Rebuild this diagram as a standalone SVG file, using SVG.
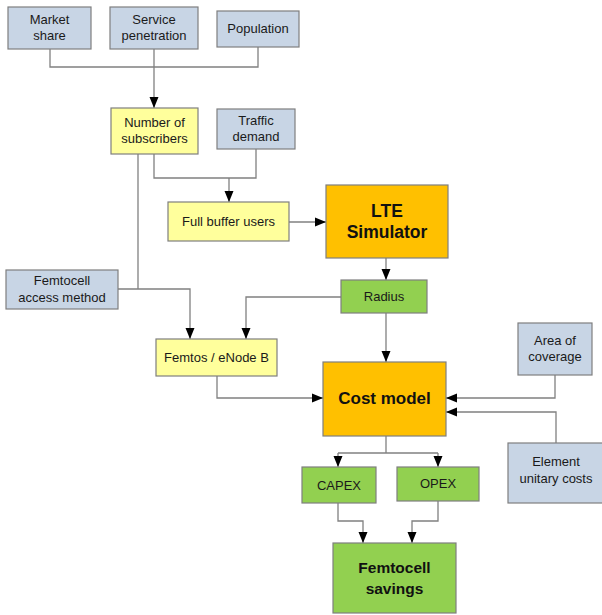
<svg xmlns="http://www.w3.org/2000/svg" width="602" height="615" viewBox="0 0 602 615">
  <style>
    .box { stroke: #7f7f7f; stroke-width: 1.2; }
    .in { fill: #c8d5e5; }
    .mid { fill: #ffff9c; }
    .core { fill: #ffc000; }
    .out { fill: #92d050; }
    text { font-family: "Liberation Sans", Arial, sans-serif; fill: #1a1a1a; text-anchor: middle; }
    .t { font-size: 13px; }
    .b { font-weight: bold; fill: #111; }
    .link { fill: none; stroke: #808080; stroke-width: 1.3; }
  </style>
  <defs>
    <marker id="arr" viewBox="0 0 11 10" refX="11" refY="5" markerWidth="11" markerHeight="10" markerUnits="userSpaceOnUse" orient="auto">
      <path d="M0,0.5 L11,5 L0,9.5 Z" fill="#000"/>
    </marker>
  </defs>
  <rect width="602" height="615" fill="#fff"/>

  <g id="connectors">
    <!-- inputs to subscriber count -->
    <path class="link" d="M50,49 V67 H258 V47"/>
    <path class="link" d="M154,49 V108" marker-end="url(#arr)"/>
    <!-- subscribers + traffic to full buffer users -->
    <path class="link" d="M154,154 V178 H256 V149"/>
    <path class="link" d="M229,178 V202" marker-end="url(#arr)"/>
    <path class="link" d="M289,222 H326" marker-end="url(#arr)"/>
    <!-- simulator to radius -->
    <path class="link" d="M386,258 V280" marker-end="url(#arr)"/>
    <!-- subscribers + access method to femtos -->
    <path class="link" d="M138,154 V289"/>
    <path class="link" d="M118,289 H190 V339" marker-end="url(#arr)"/>
    <!-- radius to femtos -->
    <path class="link" d="M341,297 H246 V339" marker-end="url(#arr)"/>
    <!-- radius to cost model -->
    <path class="link" d="M386,313 V362" marker-end="url(#arr)"/>
    <!-- femtos to cost model -->
    <path class="link" d="M217,376 V398 H323" marker-end="url(#arr)"/>
    <!-- right-hand inputs to cost model -->
    <path class="link" d="M555,375 V398 H446" marker-end="url(#arr)"/>
    <path class="link" d="M556,443 V412 H446" marker-end="url(#arr)"/>
    <!-- cost model to CAPEX / OPEX -->
    <path class="link" d="M386,436 V453"/>
    <path class="link" d="M338,453 H438"/>
    <path class="link" d="M338,453 V467" marker-end="url(#arr)"/>
    <path class="link" d="M438,453 V467" marker-end="url(#arr)"/>
    <!-- CAPEX / OPEX to savings -->
    <path class="link" d="M338,503 V521 H363 V543" marker-end="url(#arr)"/>
    <path class="link" d="M438,501 V521 H412 V543" marker-end="url(#arr)"/>
  </g>

  <g id="market-share">
    <rect class="box in" x="8" y="7" width="83" height="42"/>
    <text class="t" x="49.5" y="24">Market</text>
    <text class="t" x="49.5" y="40">share</text>
  </g>
  <g id="service-penetration">
    <rect class="box in" x="110" y="7" width="88" height="42"/>
    <text class="t" x="154" y="24">Service</text>
    <text class="t" x="154" y="40">penetration</text>
  </g>
  <g id="population">
    <rect class="box in" x="217" y="11" width="82" height="36"/>
    <text class="t" x="258" y="33">Population</text>
  </g>
  <g id="number-of-subscribers">
    <rect class="box mid" x="111" y="108" width="87" height="46"/>
    <text class="t" x="154.5" y="127">Number of</text>
    <text class="t" x="154.5" y="143">subscribers</text>
  </g>
  <g id="traffic-demand">
    <rect class="box in" x="217" y="109" width="78" height="40"/>
    <text class="t" x="256" y="125">Traffic</text>
    <text class="t" x="256" y="141">demand</text>
  </g>
  <g id="full-buffer-users">
    <rect class="box mid" x="168" y="202" width="121" height="39"/>
    <text class="t" x="228.5" y="226">Full buffer users</text>
  </g>
  <g id="lte-simulator">
    <rect class="box core" x="326" y="185" width="122" height="73"/>
    <text class="b" x="387" y="217" font-size="17.5">LTE</text>
    <text class="b" x="387" y="238" font-size="17.5">Simulator</text>
  </g>
  <g id="radius">
    <rect class="box out" x="341" y="280" width="86" height="33"/>
    <text class="t" x="384" y="301">Radius</text>
  </g>
  <g id="femtocell-access-method">
    <rect class="box in" x="6" y="270" width="112" height="39"/>
    <text class="t" x="62" y="285">Femtocell</text>
    <text class="t" x="62" y="302">access method</text>
  </g>
  <g id="femtos-enodeb">
    <rect class="box mid" x="156" y="339" width="121" height="37"/>
    <text class="t" x="216.5" y="362">Femtos / eNode B</text>
  </g>
  <g id="cost-model">
    <rect class="box core" x="323" y="362" width="123" height="74"/>
    <text class="b" x="384.5" y="404" font-size="17">Cost model</text>
  </g>
  <g id="area-of-coverage">
    <rect class="box in" x="518" y="323" width="74" height="52"/>
    <text class="t" x="555" y="345">Area of</text>
    <text class="t" x="555" y="361">coverage</text>
  </g>
  <g id="element-unitary-costs">
    <rect class="box in" x="508" y="443" width="96" height="60"/>
    <text class="t" x="556" y="466">Element</text>
    <text class="t" x="556" y="483">unitary costs</text>
  </g>
  <g id="capex">
    <rect class="box out" x="302" y="467" width="74" height="36"/>
    <text class="t" x="339" y="490">CAPEX</text>
  </g>
  <g id="opex">
    <rect class="box out" x="397" y="467" width="82" height="34"/>
    <text class="t" x="438" y="488">OPEX</text>
  </g>
  <g id="femtocell-savings">
    <rect class="box out" x="333" y="543" width="123" height="70"/>
    <text class="b" x="394.5" y="573" font-size="15.5">Femtocell</text>
    <text class="b" x="394.5" y="594" font-size="15.5">savings</text>
  </g>
</svg>
